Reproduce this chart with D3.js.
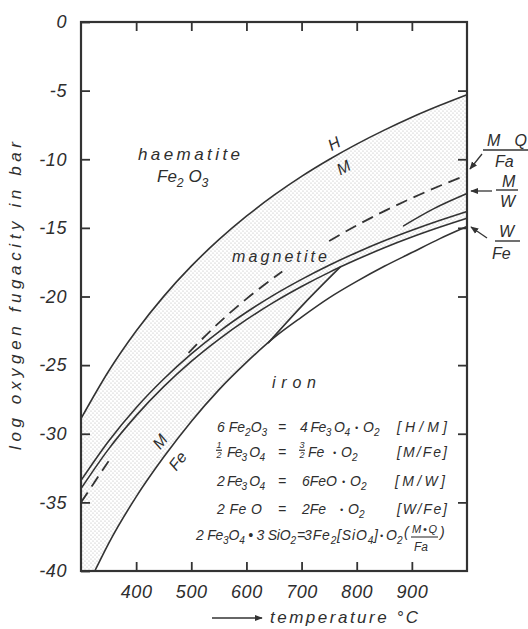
<!DOCTYPE html>
<html><head><meta charset="utf-8">
<script src="https://cdn.jsdelivr.net/npm/d3@7/dist/d3.min.js"></script>
<style>
body{margin:0;background:#fff}
svg text{font-family:"Liberation Sans",Arial,sans-serif;font-style:italic;fill:#2e2e2e}
</style></head><body>
<svg id="chart" width="528" height="629"></svg>
<script>
// temperature grid (°C) for the full-range buffer curves
const temps = [300,350,400,450,500,550,600,650,700,750,800,850,900,950,1000];
// haematite / magnetite buffer, log fO2
const hmBuffer = [-28.9,-25.45,-22.52,-19.99,-17.79,-15.86,-14.15,-12.62,-11.25,-10.02,-8.90,-7.88,-6.94,-6.09,-5.3];
// magnetite / iron double line
const mfeUpper = [-33.40,-30.54,-28.10,-26.01,-24.18,-22.57,-21.15,-19.88,-18.75,-17.72,-16.79,-15.94,-15.17,-14.46,-13.80];
const mfeLower = [-34.00,-31.12,-28.68,-26.57,-24.73,-23.12,-21.69,-20.41,-19.27,-18.24,-17.31,-16.45,-15.67,-14.96,-14.30];
// lower limit of the magnetite field, iron stable below
const ironTemps = [325,350,400,450,500,550,600,650,700,750,800,850,900,950,1000];
const ironBoundary = [-40.0,-38.0,-34.6,-31.7,-29.1,-26.8,-24.8,-23.0,-21.5,-20.1,-18.9,-17.8,-16.8,-15.8,-14.9];
// wedge joining the iron boundary to the double line
const wedgeTemps = [640,705,770];
const wedgeLine = [-23.36,-20.5,-17.86];
// magnetite / wüstite
const mwTemps = [885,940,1000];
const mwBuffer = [-14.85,-13.6,-12.5];
// magnetite + quartz / fayalite, dashed, drawn in three pieces
const fmqTempsA = [300,325,350];
const fmqA = [-35.0,-33.5,-32.0];
const fmqTempsB = [495,550,600,665];
const fmqB = [-24.10,-21.92,-20.17,-18.18];
const fmqTempsC = [750,800,850,900,950,1000];
const fmqC = [-15.96,-14.82,-13.78,-12.83,-11.95,-11.15];
// axis ticks
const xTicks = [400,500,600,700,800,900];
const yTicks = [0,-5,-10,-15,-20,-25,-30,-35,-40];

const svg = d3.select("#chart");
const ink = "#333";
const x = d3.scaleLinear().domain([300,1000]).range([81,467]);
const y = d3.scaleLinear().domain([0,-40]).range([22,571]);

const defs = svg.append("defs");
const pat = defs.append("pattern").attr("id","stipple")
  .attr("patternUnits","userSpaceOnUse").attr("width",4).attr("height",4);
pat.append("circle").attr("cx",1).attr("cy",1).attr("r",0.6).attr("fill","#b0b0b0");
pat.append("circle").attr("cx",3).attr("cy",3).attr("r",0.6).attr("fill","#b0b0b0");
defs.append("marker").attr("id","head").attr("viewBox","0 0 10 10")
  .attr("refX",9).attr("refY",5).attr("markerUnits","userSpaceOnUse")
  .attr("markerWidth",8).attr("markerHeight",8).attr("orient","auto")
  .append("path").attr("d","M0,1 L10,5 L0,9 Z").attr("fill",ink);

const fillLayer = svg.append("g");
const lineLayer = svg.append("g").attr("fill","none").attr("stroke",ink)
  .attr("stroke-width",1.6).attr("stroke-linecap","round");

const line = d3.line().x(d => x(d[0])).y(d => y(d[1])).curve(d3.curveMonotoneX);
const pts = (ts, vs) => ts.map((t, i) => [t, vs[i]]);

const hmPath = lineLayer.append("path").attr("d", line(pts(temps, hmBuffer)));
lineLayer.append("path").attr("d", line(pts(temps, mfeUpper)));
const lowerPath = lineLayer.append("path").attr("d", line(pts(temps, mfeLower)));
const ironPath = lineLayer.append("path").attr("d", line(pts(ironTemps, ironBoundary)));
const wedgePath = lineLayer.append("path").attr("d", line(pts(wedgeTemps, wedgeLine)));
lineLayer.append("path").attr("d", line(pts(mwTemps, mwBuffer)));
[[fmqTempsA, fmqA], [fmqTempsB, fmqB], [fmqTempsC, fmqC]].forEach(([ts, vs]) => {
  lineLayer.append("path").attr("d", line(pts(ts, vs)))
    .attr("stroke-dasharray","12,7").attr("stroke-width",1.8).attr("stroke-linecap","butt");
});

// stippled magnetite field, outlined by the drawn curves
function sample(node, n) {
  const L = node.getTotalLength();
  return d3.range(n + 1).map(i => { const p = node.getPointAtLength(L * i / n); return [p.x, p.y]; });
}
const xw0 = x(wedgeTemps[0]), xw1 = x(wedgeTemps[wedgeTemps.length - 1]);
const upperEdge = sample(hmPath.node(), 300);
const lowerA = sample(lowerPath.node(), 300).filter(p => p[0] >= xw1).reverse();
const lowerB = sample(wedgePath.node(), 80).reverse();
const lowerC = sample(ironPath.node(), 300).filter(p => p[0] <= xw0).reverse();
const field = upperEdge.concat(lowerA, lowerB, lowerC, [[x(300), y(-40)]]);
fillLayer.append("path").attr("d", "M" + field.join("L") + "Z").attr("fill","url(#stipple)");

// frame and ticks
svg.append("rect").attr("x",x(300)).attr("y",y(0)).attr("width",x(1000)-x(300)).attr("height",y(-40)-y(0))
  .attr("fill","none").attr("stroke",ink).attr("stroke-width",2.2);

function styleAxis(g) {
  g.select(".domain").remove();
  g.selectAll(".tick line").attr("stroke",ink).attr("stroke-width",1.8);
  g.selectAll(".tick text").attr("fill","#2e2e2e").attr("font-size",18).attr("letter-spacing",0.6);
}
const fmt = d => d === 0 ? "0" : "-" + Math.abs(d);
svg.append("g").attr("transform",`translate(0,${y(-40)})`)
  .call(d3.axisBottom(x).tickValues(xTicks).tickSize(-9).tickPadding(14)).call(styleAxis);
svg.append("g").attr("transform",`translate(0,${y(0)})`)
  .call(d3.axisTop(x).tickValues(xTicks).tickSize(-9).tickFormat("")).call(styleAxis);
svg.append("g").attr("transform",`translate(${x(300)},0)`)
  .call(d3.axisLeft(y).tickValues(yTicks).tickSize(-9).tickPadding(14).tickFormat(fmt)).call(styleAxis);
svg.append("g").attr("transform",`translate(${x(1000)},0)`)
  .call(d3.axisRight(y).tickValues(yTicks.slice(1, -1)).tickSize(-9).tickFormat("")).call(styleAxis);

// axis titles
svg.append("text").attr("transform","translate(21,296) rotate(-90)").attr("text-anchor","middle")
  .attr("font-size",17).attr("textLength",308).attr("lengthAdjust","spacing")
  .text("log oxygen fugacity in bar");
svg.append("text").attr("x",270).attr("y",623).attr("font-size",17)
  .attr("textLength",148).attr("lengthAdjust","spacing").text("temperature °C");
svg.append("line").attr("x1",212).attr("y1",618).attr("x2",262).attr("y2",618)
  .attr("stroke",ink).attr("stroke-width",1.6).attr("marker-end","url(#head)");

// text with subscripts: "_x" lowers the next character
function rich(x0, y0, str, size, len) {
  const t = svg.append("text").attr("x",x0).attr("y",y0).attr("font-size",size);
  if (len) t.attr("textLength",len).attr("lengthAdjust","spacing");
  let low = false;
  str.split(/(_.)/).filter(s => s).forEach(s => {
    if (s[0] === "_") {
      t.append("tspan").attr("font-size",size*0.72).attr("dy", low ? 0 : size*0.3).text(s[1]);
      low = true;
    } else {
      t.append("tspan").attr("dy", low ? -size*0.3 : 0).text(s);
      low = false;
    }
  });
  return t;
}
function label(x0, y0, str, size, len) {
  const t = svg.append("text").attr("x",x0).attr("y",y0).attr("font-size",size).text(str);
  if (len) t.attr("textLength",len).attr("lengthAdjust","spacing");
  return t;
}
function stack(cx, yb, num, den, size, w) {
  svg.append("text").attr("x",cx).attr("y",yb - size*0.95).attr("text-anchor","middle").attr("font-size",size).text(num);
  svg.append("line").attr("x1",cx - w/2).attr("x2",cx + w/2).attr("y1",yb - size*0.75).attr("y2",yb - size*0.75)
    .attr("stroke",ink).attr("stroke-width",1.2);
  svg.append("text").attr("x",cx).attr("y",yb + size*0.15).attr("text-anchor","middle").attr("font-size",size).text(den);
}
function tilted(cx, cy, ang, str, size) {
  svg.append("text").attr("transform",`translate(${cx},${cy}) rotate(${ang})`)
    .attr("text-anchor","middle").attr("dy","0.35em").attr("font-size",size).text(str);
}

// field names
label(138, 160, "haematite", 17, 102);
rich(157, 182, "Fe_2 O_3", 17);
label(232, 262, "magnetite", 16, 95);
label(272, 388, "iron", 16, 44);
tilted(334, 143.5, -28, "H", 16);
tilted(343.5, 167.5, -28, "M", 16);
tilted(160, 441.5, -52, "M", 16);
tilted(177.5, 461, -52, "Fe", 16);

// reaction list
const es = 14;
rich(217, 432, "6 Fe_2O_3", es); label(278, 432, "=", es); rich(300, 432, "4 Fe_3 O_4", es, 50);
label(355, 431, "•", 9); rich(363, 432, "O_2", es); label(397, 432, "[H/M]", es, 50);

stack(219, 457, "1", "2", 9, 6); rich(227, 457, "Fe_3 O_4", es, 38); label(278, 457, "=", es);
stack(302, 457, "3", "2", 9, 6); label(308, 457, "Fe", es); label(333, 456, "•", 9);
rich(341, 457, "O_2", es); label(397, 457, "[M/Fe]", es, 50);

rich(217, 486, "2 Fe_3 O_4", es, 48); label(278, 486, "=", es); label(302, 486, "6FeO", es);
label(342, 485, "•", 9); rich(350, 486, "O_2", es); label(395, 486, "[M/W]", es, 50);

label(217, 514, "2 Fe  O", es, 45); label(278, 514, "=", es); label(302, 514, "2Fe", es);
label(340, 513, "•", 9); rich(348, 514, "O_2", es); label(397, 514, "[W/Fe]", es, 50);

rich(196, 540, "2 Fe_3O_4 • 3 SiO_2", es, 100); label(297, 540, "=", es);
rich(304, 540, "3Fe_2[SiO_4]", es, 74); label(380, 539, "•", 9); rich(386, 540, "O_2", es);
label(404, 537, "(", es); label(440, 537, ")", es);
label(412, 533, "M•Q", 11, 25);
svg.append("line").attr("x1",411).attr("x2",438).attr("y1",537).attr("y2",537).attr("stroke",ink).attr("stroke-width",1.1);
label(414, 551, "Fa", 12);

// buffer names at the right edge
const rs = 16;
label(487, 146, "M Q", rs, 40);
svg.append("line").attr("x1",483).attr("x2",528).attr("y1",150).attr("y2",150).attr("stroke",ink).attr("stroke-width",1.4);
label(495, 167, "Fa", rs);
svg.append("line").attr("x1",482).attr("y1",154).attr("x2",470).attr("y2",169)
  .attr("stroke",ink).attr("stroke-width",1.3).attr("marker-end","url(#head)");

label(502, 187, "M", rs);
svg.append("line").attr("x1",496).attr("x2",518).attr("y1",190).attr("y2",190).attr("stroke",ink).attr("stroke-width",1.4);
label(500, 207, "W", rs);
svg.append("line").attr("x1",492).attr("y1",191).attr("x2",471).attr("y2",191)
  .attr("stroke",ink).attr("stroke-width",1.3).attr("marker-end","url(#head)");

label(499, 237, "W", rs);
svg.append("line").attr("x1",495).attr("x2",520).attr("y1",241).attr("y2",241).attr("stroke",ink).attr("stroke-width",1.4);
label(492, 259, "Fe", rs);
svg.append("line").attr("x1",487).attr("y1",238).attr("x2",471).attr("y2",227)
  .attr("stroke",ink).attr("stroke-width",1.3).attr("marker-end","url(#head)");
</script>
</body></html>
